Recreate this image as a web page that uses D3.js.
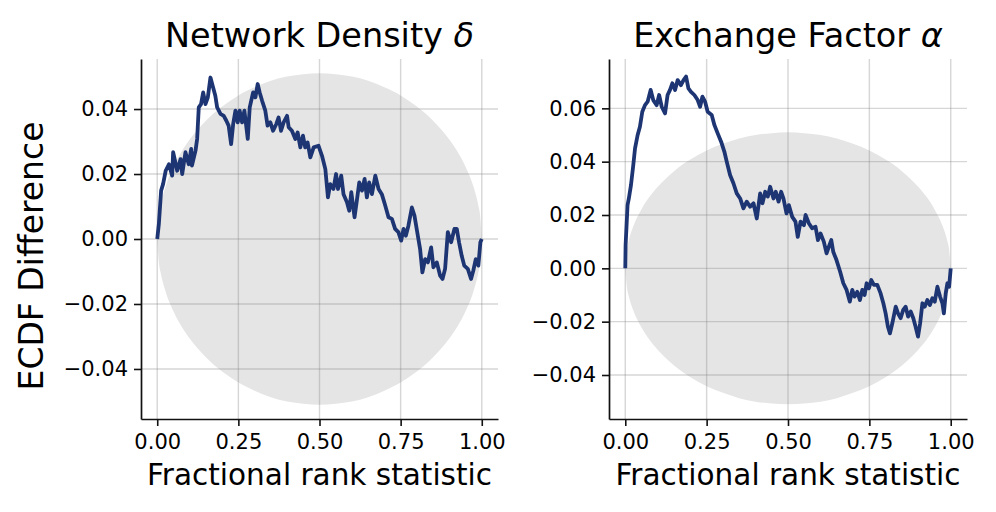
<!DOCTYPE html>
<html>
<head>
<meta charset="utf-8">
<script src="https://cdn.jsdelivr.net/npm/d3@7"></script>
<style>
  html, body { margin: 0; padding: 0; background: #fff; }
  svg { display: block; }
  text { font-family: "DejaVu Sans", sans-serif; fill: #000; }
</style>
</head>
<body>
<svg id="chart" width="996" height="512"></svg>
<script>
// ---- data ----
const panelTitles = ["Network Density ", "Exchange Factor "];
const panelSymbols = ["δ", "α"];
const xLabel = "Fractional rank statistic";
const yLabel = "ECDF Difference";

const xTicks = [0, 0.25, 0.5, 0.75, 1];
const yTicksDensity = [-0.04, -0.02, 0, 0.02, 0.04];
const yTicksExchange = [-0.04, -0.02, 0, 0.02, 0.04, 0.06];

// confidence band (half-width, symmetric about 0)
const bandRank = [0, 0.005, 0.01, 0.025, 0.05, 0.075, 0.1, 0.125, 0.15, 0.175, 0.2, 0.25, 0.3, 0.35, 0.4, 0.45, 0.5,
  0.55, 0.6, 0.65, 0.7, 0.75, 0.8, 0.825, 0.85, 0.875, 0.9, 0.925, 0.95, 0.975, 0.99, 0.995, 1];
const bandHalfWidth = [0, 0.0072, 0.0101, 0.0159, 0.0222, 0.0269, 0.0306, 0.0337, 0.0364, 0.0388, 0.0408, 0.0442, 0.0467, 0.0487, 0.0500, 0.0507, 0.0510,
  0.0507, 0.0500, 0.0487, 0.0467, 0.0442, 0.0408, 0.0388, 0.0364, 0.0337, 0.0306, 0.0269, 0.0222, 0.0159, 0.0101, 0.0072, 0];

const densityECDF = [[0,0],[0.005,0.0046],[0.012,0.0149],[0.018,0.0169],[0.026,0.021],[0.036,0.023],[0.046,0.0195],[0.049,0.0267],
  [0.0615,0.021],[0.072,0.0246],[0.077,0.020],[0.087,0.0267],[0.097,0.023],[0.1046,0.0277],[0.107,0.0226],[0.118,0.0272],
  [0.123,0.0308],[0.128,0.0405],[0.135,0.0415],[0.1415,0.0451],[0.1486,0.0415],[0.156,0.0436],[0.164,0.0497],[0.172,0.0467],
  [0.179,0.0441],[0.1846,0.0405],[0.195,0.0385],[0.205,0.0379],[0.213,0.0364],[0.220,0.0349],[0.2277,0.0292],[0.234,0.0354],
  [0.241,0.0395],[0.248,0.0359],[0.254,0.0395],[0.2615,0.0359],[0.2686,0.0395],[0.279,0.0308],[0.285,0.0405],[0.2954,0.0451],
  [0.3025,0.0436],[0.3095,0.0477],[0.3157,0.0451],[0.323,0.0426],[0.333,0.0395],[0.340,0.0349],[0.3486,0.0359],[0.357,0.0333],
  [0.367,0.0354],[0.374,0.0374],[0.3815,0.0333],[0.3895,0.0359],[0.400,0.0379],[0.405,0.0344],[0.415,0.0333],[0.4255,0.0308],
  [0.4326,0.0328],[0.441,0.0282],[0.449,0.0318],[0.456,0.0282],[0.4634,0.0297],[0.4717,0.0251],[0.482,0.0282],[0.497,0.0287],
  [0.5077,0.0256],[0.518,0.0215],[0.526,0.0128],[0.533,0.0169],[0.543,0.0154],[0.551,0.020],[0.557,0.0154],[0.567,0.0195],
  [0.574,0.0138],[0.5846,0.0113],[0.5917,0.0087],[0.598,0.0144],[0.608,0.0067],[0.615,0.0118],[0.6225,0.0174],[0.631,0.0149],
  [0.639,0.0185],[0.646,0.0128],[0.653,0.0174],[0.6615,0.0138],[0.672,0.0195],[0.682,0.0154],[0.692,0.0138],[0.7025,0.0103],
  [0.7126,0.0067],[0.723,0.0062],[0.733,0.0031],[0.743,0.0021],[0.7517,-0.0005],[0.759,0.0031],[0.766,0.001],[0.774,0.0041],
  [0.7846,0.0097],[0.7926,0.0072],[0.803,0.001],[0.810,-0.0031],[0.817,-0.0103],[0.8255,-0.0062],[0.834,-0.0072],[0.844,-0.0026],
  [0.851,-0.0087],[0.8615,-0.0072],[0.8717,-0.0113],[0.879,-0.0123],[0.887,-0.0092],[0.8954,0.0021],[0.9055,-0.001],[0.9157,0.0031],
  [0.923,0.0031],[0.930,-0.001],[0.938,-0.0051],[0.946,-0.0082],[0.957,-0.0092],[0.967,-0.0123],[0.974,-0.0097],[0.9815,-0.0062],
  [0.9895,-0.0082],[0.9957,-0.001],[1.0,0]];

const exchangeECDF = [[0,0],[0.001,0.0087],[0.007,0.0237],[0.011,0.0262],[0.0175,0.0312],[0.0246,0.0387],[0.030,0.045],[0.038,0.050],
  [0.045,0.0531],[0.0523,0.0587],[0.0606,0.0612],[0.0687,0.0625],[0.078,0.0669],[0.086,0.0631],[0.0965,0.0612],[0.104,0.065],
  [0.112,0.0606],[0.1222,0.0581],[0.130,0.065],[0.1375,0.0669],[0.1446,0.0694],[0.153,0.0669],[0.161,0.0706],[0.171,0.0687],
  [0.179,0.0706],[0.1868,0.0719],[0.194,0.0675],[0.202,0.0662],[0.2123,0.065],[0.2225,0.0631],[0.23,0.0606],[0.237,0.0644],
  [0.2452,0.0625],[0.2532,0.0587],[0.2656,0.0575],[0.274,0.0537],[0.284,0.0506],[0.2945,0.0475],[0.3046,0.0437],[0.3117,0.040],
  [0.322,0.035],[0.3323,0.0319],[0.3425,0.0281],[0.353,0.0262],[0.363,0.0225],[0.3732,0.025],[0.3836,0.0231],[0.394,0.0244],
  [0.404,0.0187],[0.4144,0.0281],[0.4215,0.0244],[0.430,0.0287],[0.438,0.0269],[0.4452,0.0306],[0.4554,0.0262],[0.4625,0.0287],
  [0.471,0.025],[0.479,0.0287],[0.486,0.0262],[0.4954,0.0206],[0.5026,0.0237],[0.513,0.0193],[0.523,0.0175],[0.530,0.0118],
  [0.5385,0.0175],[0.549,0.0162],[0.554,0.020],[0.564,0.0169],[0.574,0.015],[0.5846,0.0156],[0.592,0.0106],[0.600,0.0131],
  [0.610,0.010],[0.6185,0.0056],[0.6256,0.0081],[0.633,0.0106],[0.639,0.0062],[0.649,0.0031],[0.660,-0.0012],[0.670,-0.0056],
  [0.680,-0.0081],[0.690,-0.0125],[0.6975,-0.0081],[0.7046,-0.0106],[0.713,-0.0088],[0.721,-0.0119],[0.7283,-0.0081],[0.7354,-0.010],
  [0.7415,-0.0056],[0.7487,-0.0075],[0.756,-0.0044],[0.764,-0.0062],[0.7744,-0.0062],[0.7846,-0.0094],[0.793,-0.0131],[0.800,-0.0169],
  [0.807,-0.0219],[0.8133,-0.0244],[0.8205,-0.0206],[0.831,-0.0144],[0.838,-0.0169],[0.846,-0.0187],[0.854,-0.0156],[0.8615,-0.0144],
  [0.869,-0.0181],[0.877,-0.0162],[0.885,-0.0187],[0.892,-0.0219],[0.8995,-0.0256],[0.906,-0.0206],[0.913,-0.0131],[0.92,-0.0144],
  [0.928,-0.0119],[0.936,-0.0138],[0.9436,-0.0112],[0.951,-0.0125],[0.959,-0.0069],[0.9672,-0.0106],[0.9744,-0.0131],[0.979,-0.0169],
  [0.9846,-0.0094],[0.9897,-0.0056],[0.995,-0.0069],[1.0,0]];

// ---- layout ----
const svg = d3.select("#chart");
const lineColor = "#1d3573";
const bandColor = "#e5e5e5";

const panels = [
  { left: 141, right: 498, top: 59, bottom: 419, yDomain: [-0.0554, 0.0554], yTicks: yTicksDensity, data: densityECDF, title: 0 },
  { left: 609, right: 967, top: 59, bottom: 419, yDomain: [-0.0565, 0.0785], yTicks: yTicksExchange, data: exchangeECDF, title: 1 }
];

const fmt = d => (d < 0 ? "\u2212" : "") + Math.abs(d).toFixed(2);
const band = bandRank.map((r, i) => ({ r, h: bandHalfWidth[i] }));

panels.forEach(p => {
  const x = d3.scaleLinear().domain([-0.05, 1.05]).range([p.left, p.right]);
  const y = d3.scaleLinear().domain(p.yDomain).range([p.bottom, p.top]);
  const g = svg.append("g");

  // band
  g.append("path")
    .datum(band)
    .attr("fill", bandColor)
    .attr("d", d3.area().x(d => x(d.r)).y0(d => y(-d.h)).y1(d => y(d.h)).curve(d3.curveMonotoneX));

  // grid
  g.selectAll(".gx").data(xTicks).join("line")
    .attr("x1", d => x(d)).attr("x2", d => x(d))
    .attr("y1", p.top).attr("y2", p.bottom)
    .attr("stroke", "rgba(128,128,128,0.32)").attr("stroke-width", 1.4);
  g.selectAll(".gy").data(p.yTicks).join("line")
    .attr("x1", p.left).attr("x2", p.right)
    .attr("y1", d => y(d)).attr("y2", d => y(d))
    .attr("stroke", "rgba(128,128,128,0.32)").attr("stroke-width", 1.4);

  // line
  g.append("path")
    .datum(p.data)
    .attr("fill", "none")
    .attr("stroke", lineColor)
    .attr("stroke-width", 3.8)
    .attr("stroke-linejoin", "round")
    .attr("d", d3.line().x(d => x(d[0])).y(d => y(d[1])));

  // axes
  const xAxis = d3.axisBottom(x).tickValues(xTicks).tickFormat(d => d.toFixed(2))
    .tickSizeInner(7).tickSizeOuter(0).tickPadding(8);
  const yAxis = d3.axisLeft(y).tickValues(p.yTicks).tickFormat(fmt)
    .tickSizeInner(7).tickSizeOuter(0).tickPadding(6);

  const gx = g.append("g").attr("transform", `translate(0,${p.bottom})`).call(xAxis);
  const gy = g.append("g").attr("transform", `translate(${p.left},0)`).call(yAxis);
  [gx, gy].forEach(a => {
    a.select(".domain").attr("stroke", "#111").attr("stroke-width", 1.7);
    a.selectAll(".tick line").attr("stroke", "#111").attr("stroke-width", 1.6);
    a.selectAll(".tick text").attr("font-size", 21).attr("font-family", "DejaVu Sans").attr("fill", "#000");
  });

  // title
  const t = svg.append("text")
    .attr("x", (p.left + p.right) / 2).attr("y", 47)
    .attr("text-anchor", "middle").attr("font-size", 33.5);
  t.append("tspan").text(panelTitles[p.title]);
  t.append("tspan").attr("font-style", "italic").text(panelSymbols[p.title]);

  // x label
  svg.append("text")
    .attr("x", (p.left + p.right) / 2).attr("y", 485)
    .attr("text-anchor", "middle").attr("font-size", 29.5)
    .text(xLabel);
});

// shared y label
svg.append("text")
  .attr("transform", "translate(43,256) rotate(-90)")
  .attr("text-anchor", "middle").attr("font-size", 33)
  .text(yLabel);
</script>
</body>
</html>
